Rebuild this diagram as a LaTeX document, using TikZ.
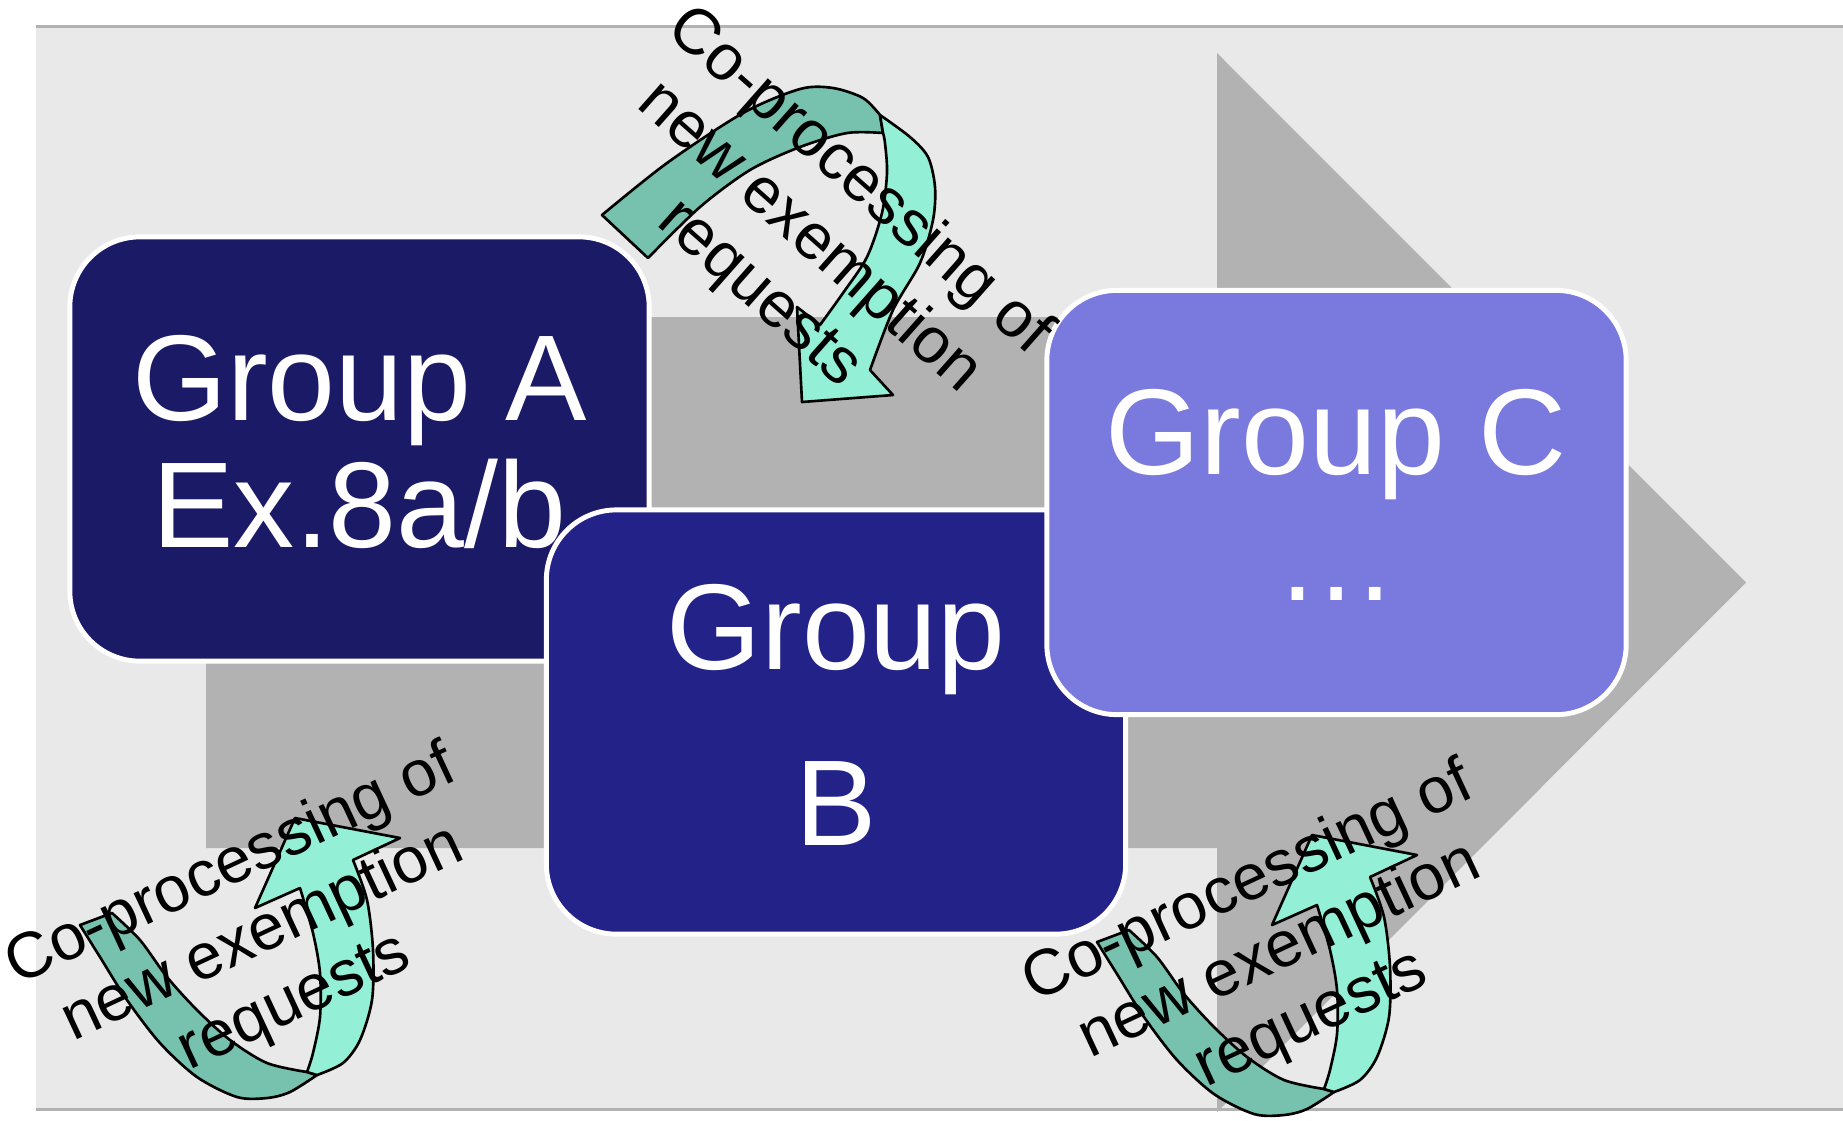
\documentclass[tikz,border=0pt]{standalone}
\usepackage{fontspec}
\setmainfont{Liberation Sans}

\definecolor{panelgrey}{HTML}{E9E9E9}
\definecolor{rulegrey}{HTML}{B2B2B2}
\definecolor{flowgrey}{HTML}{B2B2B2}
\definecolor{groupA}{HTML}{1B1A66}
\definecolor{groupB}{HTML}{222288}
\definecolor{groupC}{HTML}{7A7ADE}
\definecolor{tealback}{HTML}{76C2AE}
\definecolor{tealfront}{HTML}{93F0D6}

\begin{document}
\begin{tikzpicture}[x=0.01cm,y=-0.01cm]
\tikzstyle{groupbox}=[draw=white, line width=1.4pt, rounded corners=0.7cm, minimum width=5.79cm, minimum height=4.24cm, inner sep=0pt]
\tikzstyle{grouptext}=[text=white, align=center, inner sep=0pt, font=\fontsize{34.7}{36}\selectfont]
\tikzstyle{notetext}=[align=center, inner sep=0pt, font=\fontsize{18.35}{21.3}\selectfont]
\tikzstyle{backpart}=[fill=tealback, draw=black, line width=0.75pt, line join=round]
\tikzstyle{frontpart}=[fill=tealfront, draw=black, line width=0.75pt, line join=round]
\useasboundingbox (0,0) rectangle (1843,1120);
\fill [white] (0,0) rectangle (1843,1120);
% panel and big grey arrow
\fill [panelgrey] (36,26) rectangle (1843,1109);
\fill [flowgrey] (206,317) -- (1217,317) -- (1217,53) -- (1746,582.5) -- (1217,1112) -- (1217,848) -- (206,848) -- cycle;
\draw [rulegrey, line width=0.85pt] (36,26.5) -- (1843,26.5);
\draw [rulegrey, line width=0.85pt] (36,1109.5) -- (1843,1109.5);
% groups
\node [groupbox, fill=groupA] (grpA) at (359.5,449) {};
\node [grouptext] (grpAtext) at (359.5,442) {Group A\\Ex.8a/b};
\node [groupbox, fill=groupB] (grpB) at (836,722) {};
\node [grouptext] (grpBtext) at (836,714.5) {Group\\[14pt]B};
\node [groupbox, fill=groupC] (grpC) at (1336.5,502.5) {};
\node [grouptext] (grpCtext) at (1336.5,495) {Group C\\…};
% top circular arrow
\filldraw [backpart] plot [smooth] coordinates {(602,215) (667,163) (743,113) (800,89) (833,88) (863,98) (880,115)}
  -- (883,133) -- plot [smooth] coordinates {(883,133) (847,133) (800,147) (750,170) (700,207) (648,258)} -- cycle;
\filldraw [frontpart] plot [smooth] coordinates {(880,115) (910,137) (928,157) (935,187) (933,220) (920,263) (893,310) (870,370)}
  -- (893,395) -- (802,402) -- (797,307)
  -- plot [smooth] coordinates {(820,325) (843,293) (867,257) (882,213) (887,173) (885,143) (883,133)} -- cycle;
% bottom circular arrows
\foreach \dx/\dy in {0/0, 1017/17} {
\begin{scope}[shift={(\dx,\dy)}]
\filldraw [backpart] plot [smooth] coordinates {(80,925) (100,957) (127,1000) (160,1043) (197,1077) (237,1097) (267,1098) (290,1092) (317,1075)}
  -- (307,1072) -- plot [smooth] coordinates {(307,1072) (267,1063) (230,1040) (197,1010) (167,977) (140,940) (112,913)} -- cycle;
\filldraw [frontpart] plot [smooth] coordinates {(307,1072) (313,1053) (320,1017) (320,973) (313,933) (300,888)}
  -- (255,908) -- (295,818) -- (400,838)
  -- plot [smooth] coordinates {(353,860) (367,900) (373,950) (372,1000) (360,1040) (343,1063) (317,1075)} -- cycle;
\end{scope}
}
% labels on the arrows
\node [notetext, rotate=-41.5] (noteTop) at (809,238) {Co-processing of\\new exemption\\requests};
\node [notetext, rotate=25] (noteLeft) at (263,935) {Co-processing of\\new exemption\\requests};
\node [notetext, rotate=25] (noteRight) at (1280,952) {Co-processing of\\new exemption\\requests};
\end{tikzpicture}
\end{document}
